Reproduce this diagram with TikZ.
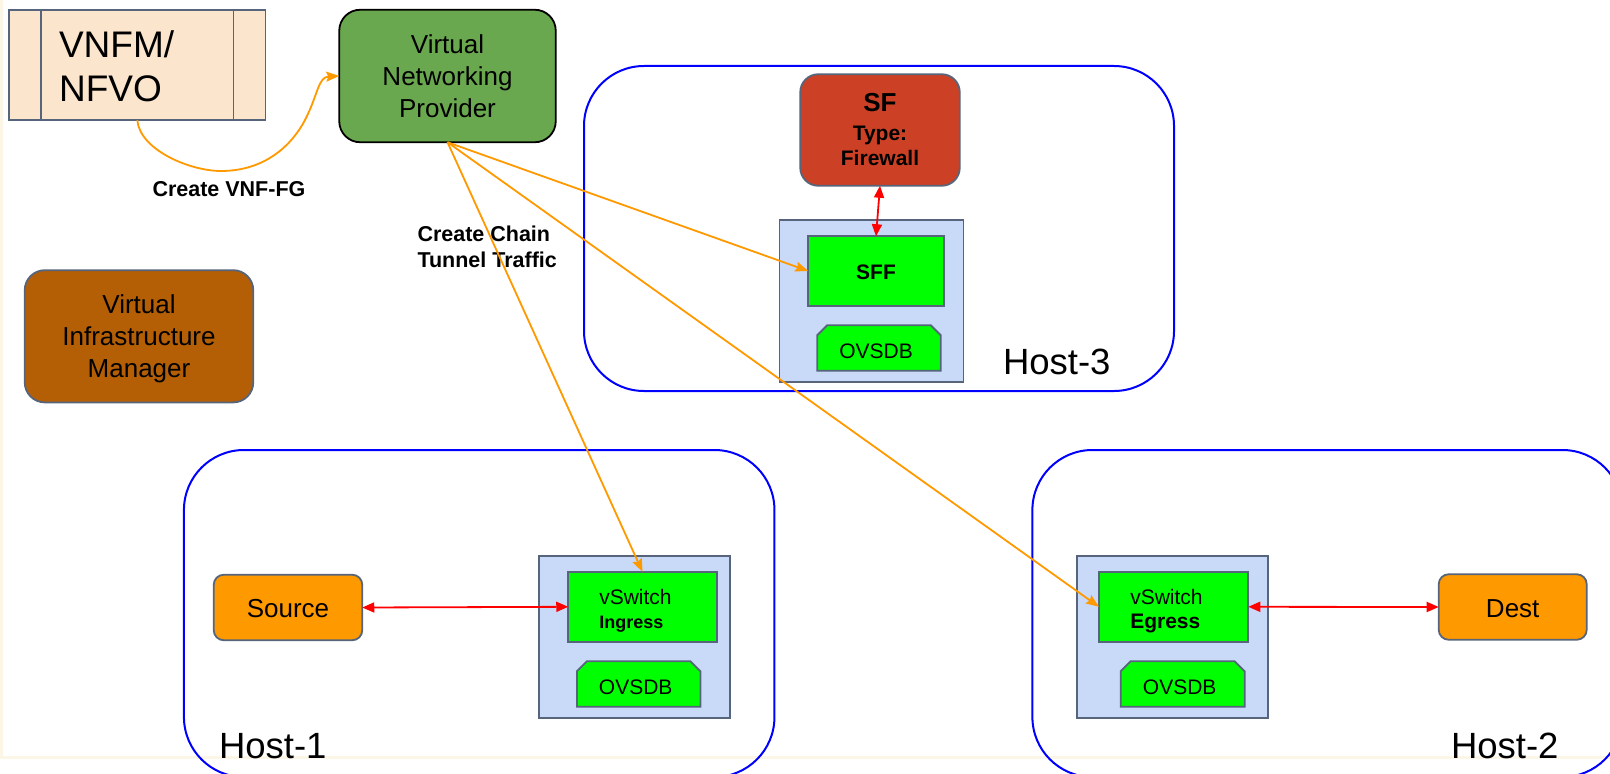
\documentclass[tikz,border=0pt]{standalone}
\usepackage{fontspec}
\setmainfont{Liberation Sans}
\usetikzlibrary{arrows.meta,shapes.misc}
\definecolor{slate}{HTML}{56657C}
\definecolor{peach}{HTML}{FCE5CD}
\definecolor{leaf}{HTML}{6AA84F}
\definecolor{rust}{HTML}{CC4125}
\definecolor{sky}{HTML}{C9DAF8}
\definecolor{lime}{HTML}{00FF00}
\definecolor{amber}{HTML}{FF9900}
\definecolor{umber}{HTML}{B45F06}
\definecolor{cream}{HTML}{FCF6E6}
\newcommand{\fs}[2]{\fontsize{#1bp}{#2bp}\selectfont}
\newcommand{\topup}[1]{\rule{0pt}{#1bp}}
\tikzset{
  x=1bp,y=-1bp,
  every node/.style={inner sep=0pt,outer sep=0pt},
  sized/.style 2 args={minimum width=#1bp,minimum height=#2bp},
  hostbox/.style={draw=blue,line width=2bp,rounded corners=60bp},
  hostlabel/.style={anchor=base west,font=\fs{36.5}{40}},
  rackbox/.style={draw=slate,line width=1.8bp,fill=sky},
  greenbox/.style={draw=slate,line width=1.8bp,fill=lime},
  dbbox/.style={draw=slate,line width=1.8bp,fill=lime,chamfered rectangle,
    chamfered rectangle corners={north west,north east},chamfered rectangle xsep=5bp,chamfered rectangle ysep=5bp,font=\fs{21}{24}},
  endbox/.style={draw=slate,line width=1.8bp,fill=amber,rounded corners=10bp,font=\fs{26}{30}},
  ctl/.style={draw=amber,line width=1.8bp,-{Stealth[length=13bp,width=10bp,inset=2bp]}},
  data/.style={draw=red,line width=1.8bp,{Stealth[length=12bp,width=10bp,inset=0bp]}-{Stealth[length=12bp,width=10bp,inset=0bp]}},
  note/.style={anchor=base west,font=\bfseries\fs{21.5}{26},align=left},
}
\begin{document}
\begin{tikzpicture}
\useasboundingbox (0,0) rectangle (1610,774);
\fill[white] (0,0) rectangle (1610,774);
\fill[cream] (0,0) rectangle (3,757);
\fill[cream] (0,755.5) rectangle (1610,758.5);

% hosts
\node[hostbox,sized={590.5}{327}] (h1) at (479.2,613.5) {};
\node[hostbox,sized={590}{327}] (h2) at (1327.4,613.5) {};
\node[hostbox,sized={590}{325}] (h3) at (879,228.5) {};
\node[hostlabel] (h1t) at (219,758) {Host-1};
\node[hostlabel] (h2t) at (1451,758) {Host-2};
\node[hostlabel] (h3t) at (1003,374.3) {Host-3};

% top left
\node[draw=slate,line width=1.8bp,fill=peach,sized={256.5}{110.5},text width=256.5bp,align=left,font=\fs{37}{44}] (vnfm) at (137.3,65) {\hspace*{50bp}\topup{29}VNFM/\\\hspace*{50bp}NFVO};
\draw[draw=slate,line width=1.8bp] ([xshift=32.3bp]vnfm.north west) -- ([xshift=32.3bp]vnfm.south west);
\draw[draw=slate,line width=1.8bp] ([xshift=-32bp]vnfm.north east) -- ([xshift=-32bp]vnfm.south east);
\node[draw=black,line width=1.8bp,fill=leaf,rounded corners=21bp,sized={216.5}{132.5},align=center,font=\fs{26}{32}] (vnp) at (447.5,76) {Virtual\\Networking\\Provider};
\node[draw=slate,line width=1.8bp,fill=umber,rounded corners=20bp,sized={228.5}{132.2},align=center,font=\fs{26}{32}] (vim) at (139,336.3) {\topup{24}Virtual\\Infrastructure\\Manager};

% Host-3 contents
\node[draw=slate,line width=1.8bp,fill=rust,rounded corners=18bp,sized={159.5}{111.5},align=center,font=\bfseries\fs{21}{25.5}] (sf) at (880,130) {{\fs{26}{30}SF}\\[3bp]Type:\\Firewall};
\node[rackbox,sized={184}{161.5}] (r3) at (871.5,301) {};
\node[greenbox,sized={135.5}{69.5},font=\bfseries\fs{21}{24}] (sff) at (876,271) {\topup{17}SFF};
\node[dbbox,sized={123.5}{45.5}] (db3) at (879,348) {\topup{21}OVSDB\kern6bp};

% Host-1 contents
\node[endbox,sized={148.5}{65.5}] (src) at (288,607.5) {\topup{20}Source};
\node[rackbox,sized={190.8}{161.8}] (r1) at (634.6,636.8) {};
\node[greenbox,sized={148.5}{69.8},text width=148.5bp,align=left,font=\fs{21}{24}] (in) at (642.5,606.8) {\hspace*{31bp}\topup{23}vSwitch\\[-0.5bp]\hspace*{31bp}{\bfseries\fs{18}{24}Ingress}};
\node[dbbox,sized={123.5}{45.5}] (db1) at (638.7,684) {\topup{21}OVSDB\kern6bp};

% Host-2 contents
\node[rackbox,sized={190.7}{161.8}] (r2) at (1172.4,636.8) {};
\node[greenbox,sized={149.3}{69.8},text width=149.3bp,align=left,font=\fs{21}{24}] (eg) at (1173.6,606.8) {\hspace*{31.3bp}\topup{23}vSwitch\\\hspace*{31.3bp}{\bfseries Egress}};
\node[dbbox,sized={124}{45.5}] (db2) at (1182.7,684) {\topup{21}OVSDB\kern6bp};
\node[endbox,sized={148}{65.5}] (dst) at (1512.7,607) {\topup{21}Dest};

% labels
\node[note] (l1) at (152.5,196.7) {Create VNF-FG};
\node[note] (l2) at (417.5,241) {Create Chain};
\node[note] (l3) at (417.5,267.5) {Tunnel Traffic};

% connectors
\coordinate (b1) at (221,171);
\coordinate (b2) at (305,120);
\draw[ctl] (vnfm.south) .. controls (140,150) and (190,171) .. (b1) .. controls (265,171) and (292,145) .. (b2) .. controls (318,95) and (318,77) .. (vnp.west);
\draw[ctl] (vnp.south) -- (sff.west);
\draw[ctl] (vnp.south) -- (in.north);
\draw[ctl] (vnp.south) -- (eg.west);
\draw[data] (src.east) -- (in.west);
\draw[data] (eg.east) -- (dst.west);
\draw[data] (sf.south) -- (sff.north);
\end{tikzpicture}
\end{document}
